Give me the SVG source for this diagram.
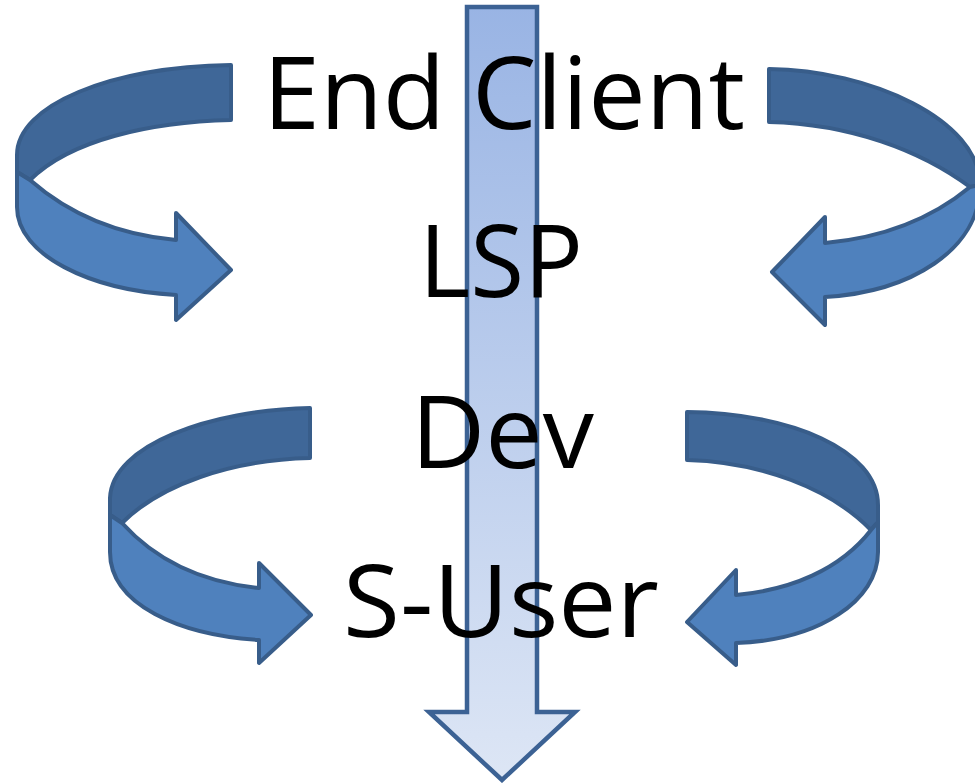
<svg xmlns="http://www.w3.org/2000/svg" width="975" height="783" viewBox="0 0 975 783">
<defs>
<linearGradient id="g" x1="0" y1="0" x2="0" y2="1">
<stop offset="0" stop-color="#99B4E4"/>
<stop offset="1" stop-color="#DDE6F5"/>
</linearGradient>
<style>
.dk{fill:#3F6798;stroke:#385D8A;stroke-width:4;stroke-linejoin:round}
.lt{fill:#4F81BD;stroke:#385D8A;stroke-width:4;stroke-linejoin:round}
.lbl{font-family:"Open Sans","Liberation Sans",sans-serif;font-size:101px;fill:#000}
</style>
</defs>
<rect width="975" height="783" fill="#fff"/>
<g id="connectors">
<g id="arrow-top-left">
<path class="dk" d="M231,65 L231,120 C150,122 70,140 30,180 L17,172 L17,155 C17,105 110,67 231,65 Z"/>
<path class="lt" d="M30,180 C70,215 120,235 176,240 L176,213 L231,270 L176,320 L176,295 C90,290 17,255 17,207 L17,172 Z"/>
</g>
<g id="arrow-top-right">
<path class="dk" d="M769,69 C870,70 980,120 980,185 L970,187 C920,150 850,124 769,122 Z"/>
<path class="lt" d="M970,187 C930,220 880,238 825,243 L825,217 L772,272 L825,325 L825,297 C910,292 980,250 980,185 Z"/>
</g>
<g id="arrow-bottom-left">
<path class="dk" d="M310,408 L310,458 C230,460 160,485 122,523 L110,515 L110,498 C112,445 210,410 310,408 Z"/>
<path class="lt" d="M122,523 C160,565 210,583 259,588 L259,563 L311,615 L259,663 L259,640 C180,635 110,605 110,552 L110,515 Z"/>
</g>
<g id="arrow-bottom-right">
<path class="dk" d="M687,412 C790,413 878,450 878,505 L878,522 L871,530 C830,488 760,462 687,460 Z"/>
<path class="lt" d="M871,530 C840,570 790,590 736,595 L736,570 L687,622 L736,665 L736,643 C820,640 878,600 878,552 L878,522 Z"/>
</g>
<g id="arrow-down">
<path d="M467,7 L537,7 L537,712 L575,712 L502,780 L429,712 L467,712 Z" fill="url(#g)" stroke="#3C6294" stroke-width="4.5" stroke-linejoin="miter"/>
</g>
</g>
<g id="node-end-client"><text class="lbl" x="263" y="129" textLength="482" lengthAdjust="spacingAndGlyphs">End Client</text></g>
<g id="node-lsp"><text class="lbl" x="419" y="297" textLength="164" lengthAdjust="spacingAndGlyphs">LSP</text></g>
<g id="node-dev"><text class="lbl" x="411" y="468" textLength="183" lengthAdjust="spacingAndGlyphs">Dev</text></g>
<g id="node-s-user"><text class="lbl" x="343" y="637" textLength="316" lengthAdjust="spacingAndGlyphs">S-User</text></g>
</svg>
